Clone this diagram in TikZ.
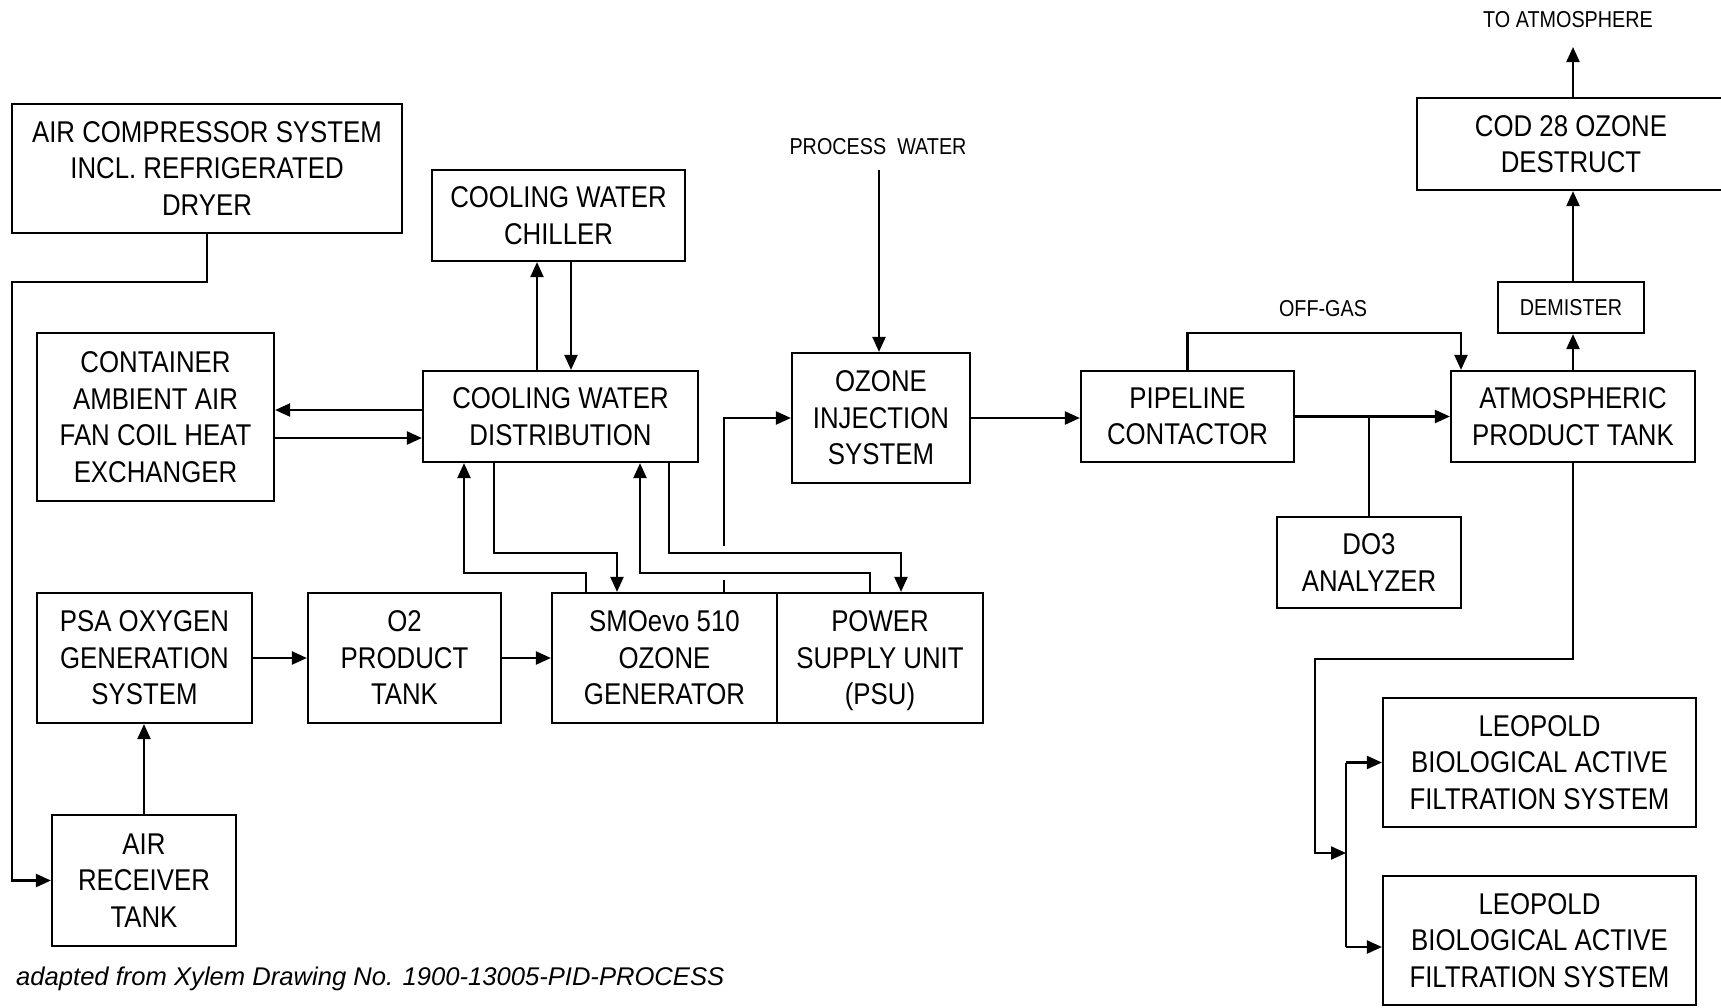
\documentclass[tikz,border=0pt]{standalone}
\usepackage{fontspec}
\setmainfont{Liberation Sans}[FakeStretch=0.86]
\newfontfamily\footfont{Liberation Sans}
\usetikzlibrary{arrows.meta}
\begin{document}
\begin{tikzpicture}[x=1pt,y=-1pt,
  box/.style={draw, line width=2.2pt, inner sep=0pt, align=center, font=\fontsize{30}{36.5}\selectfont},
  lbl/.style={inner sep=0pt, font=\fontsize{23}{27}\selectfont},
  arr/.style={line width=2.2pt, -{Triangle[length=15pt,width=13pt]}},
  ln/.style={line width=2.2pt}]
\clip (0,0) rectangle (1721,1007);
\fill[white] (0,0) rectangle (1721,1007);

% boxes
\node[box, minimum width=390pt, minimum height=129pt] (aircomp) at (207,168.5) {AIR COMPRESSOR SYSTEM\\INCL. REFRIGERATED\\DRYER};
\node[box, minimum width=253pt, minimum height=91pt] (chiller) at (558.5,215.5) {COOLING WATER\\CHILLER};
\node[box, minimum width=237pt, minimum height=168pt] (container) at (155.5,417) {CONTAINER\\AMBIENT AIR\\FAN COIL HEAT\\EXCHANGER};
\node[box, minimum width=275pt, minimum height=91pt] (cwd) at (560.5,416.5) {COOLING WATER\\DISTRIBUTION};
\node[box, minimum width=178pt, minimum height=130pt] (ozinj) at (881,418) {OZONE\\INJECTION\\SYSTEM};
\node[box, minimum width=213pt, minimum height=91pt] (pipeline) at (1187.5,416.5) {PIPELINE\\CONTACTOR};
\node[box, minimum width=244pt, minimum height=91pt] (atm) at (1573,416.5) {ATMOSPHERIC\\PRODUCT TANK};
\node[box, minimum width=146pt, minimum height=51pt, font=\fontsize{23}{27}\selectfont] (demister) at (1571,307.5) {DEMISTER};
\node[box, minimum width=308pt, minimum height=92pt] (cod) at (1571,144) {COD 28 OZONE\\DESTRUCT};
\node[box, minimum width=184pt, minimum height=91pt] (do3) at (1369,562.5) {DO3\\ANALYZER};
\node[box, minimum width=215pt, minimum height=130pt] (psa) at (144.5,658) {PSA OXYGEN\\GENERATION\\SYSTEM};
\node[box, minimum width=193pt, minimum height=130pt] (o2) at (404.5,658) {O2\\PRODUCT\\TANK};
\node[box, minimum width=225pt, minimum height=130pt] (smo) at (664.5,658) {SMOevo 510\\OZONE\\GENERATOR};
\node[box, minimum width=206pt, minimum height=130pt] (psu) at (880,658) {POWER\\SUPPLY UNIT\\\smash{(PSU)}};
\node[box, minimum width=184pt, minimum height=131pt] (recv) at (144,880.5) {AIR\\RECEIVER\\TANK};
\node[box, minimum width=313pt, minimum height=129pt] (leo1) at (1539.5,762.5) {LEOPOLD\\BIOLOGICAL ACTIVE\\FILTRATION SYSTEM};
\node[box, minimum width=313pt, minimum height=129pt] (leo2) at (1539.5,940.5) {LEOPOLD\\BIOLOGICAL ACTIVE\\FILTRATION SYSTEM};

% labels
\node[lbl] (pw) at (878,147) {PROCESS\hspace{11pt}WATER};
\node[lbl] (offgas) at (1323,309) {OFF-GAS};
\node[lbl] (toatm) at (1568,20) {TO ATMOSPHERE};
\node[anchor=west, inner sep=0pt, font=\footfont\itshape\fontsize{25.6}{30}\selectfont] (foot) at (16,979) {adapted from Xylem Drawing No. 1900-13005-PID-PROCESS};

% helper coordinates
\coordinate (airbend) at (12,282);
\coordinate (chU) at (537,300);
\coordinate (chD) at (571,300);
\coordinate (cL) at (330,410);
\coordinate (cR) at (330,438);
\coordinate (u1a) at (586,573);
\coordinate (u1b) at (464,573);
\coordinate (d1a) at (494,553);
\coordinate (d1b) at (617,553);
\coordinate (u2a) at (870,573);
\coordinate (u2b) at (640,573);
\coordinate (d2a) at (669,553);
\coordinate (d2b) at (901,553);
\coordinate (ozA) at (724,580);
\coordinate (ozB) at (724,546);
\coordinate (pwin) at (879,170);
\coordinate (og) at (1461,333);
\coordinate (toatmtip) at (1573,47);
\coordinate (fb) at (1315,659);
\coordinate (split) at (1346,853);
\coordinate (l2in) at ([yshift=-6.5pt]leo2.west);

% connectors
\draw[arr] (aircomp.south) |- (airbend) |- (recv.west);
\draw[arr] (recv.north) -- (recv.north |- psa.south);
\draw[arr] (psa) -- (o2);
\draw[arr] (o2) -- (smo);
\draw[arr] (cwd.north -| chU) -- (chiller.south -| chU);
\draw[arr] (chiller.south -| chD) -- (cwd.north -| chD);
\draw[arr] (cwd.west |- cL) -- (container.east |- cL);
\draw[arr] (container.east |- cR) -- (cwd.west |- cR);
\draw[arr] (smo.north -| u1a) -- (u1a) -- (u1b) -- (cwd.south -| u1b);
\draw[arr] (cwd.south -| d1a) -- (d1a) -- (d1b) -- (smo.north -| d1b);
\draw[arr] (psu.north -| u2a) -- (u2a) -- (u2b) -- (cwd.south -| u2b);
\draw[arr] (cwd.south -| d2a) -- (d2a) -- (d2b) -- (psu.north -| d2b);
\draw[ln] (smo.north -| ozA) -- (ozA);
\draw[arr] (ozB) |- (ozinj.west);
\draw[arr] (pwin) -- (pwin |- ozinj.north);
\draw[arr] (ozinj.east) -- (pipeline.west |- ozinj.east);
\draw[arr] (pipeline) -- (atm);
\draw[ln] (do3.north) -- (do3.north |- pipeline.east);
\draw[arr] (pipeline.north) |- (og) -- (og |- atm.north);
\draw[arr] (atm.north) -- (atm.north |- demister.south);
\draw[arr] (atm.north |- demister.north) -- (atm.north |- cod.south);
\draw[arr] (atm.north |- cod.north) -- (toatmtip);
\draw[arr] (atm.south) |- (fb) |- (split);
\draw[ln] (split |- leo1.west) -- (split |- l2in);
\draw[arr] (split |- leo1.west) -- (leo1.west);
\draw[arr] (split |- l2in) -- (l2in);
\end{tikzpicture}
\end{document}
